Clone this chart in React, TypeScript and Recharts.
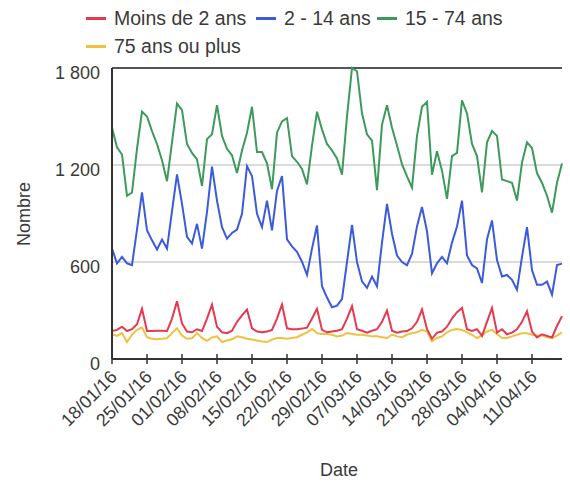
import { LineChart, Line, XAxis, YAxis, ReferenceLine, Label } from "recharts";

// one point per day, from 18/01/16 to 17/04/16
const START = Date.UTC(2016, 0, 18);
const pad = (n: number) => String(n).padStart(2, "0");
const dates = Array.from({ length: 91 }, (_, i) => {
  const d = new Date(START + i * 86400000);
  return `${pad(d.getUTCDate())}/${pad(d.getUTCMonth() + 1)}/${String(d.getUTCFullYear()).slice(2)}`;
});

const moins2 = [
  173, 180, 200, 173, 184, 215, 310, 173, 173, 175, 175, 173, 250, 357, 220, 170, 165, 184, 173, 250,
  337, 200, 165, 160, 175, 230, 270, 306, 190, 170, 165, 170, 180, 250, 337, 190, 184, 184, 188, 194,
  250, 310, 180, 165, 170, 175, 184, 250, 327, 184, 175, 163, 175, 184, 230, 300, 175, 163, 170, 173,
  190, 230, 306, 184, 125, 163, 170, 200, 250, 290, 316, 184, 173, 184, 143, 230, 316, 163, 184, 153,
  163, 184, 230, 296, 170, 133, 153, 143, 133, 204, 265,
];

const de2a14 = [
  683, 592, 632, 592, 581, 800, 1030, 796, 734, 677, 739, 683, 914, 1142, 960, 755, 714, 836, 683, 910,
  1190, 980, 816, 745, 780, 800, 898, 1193, 1132, 898, 816, 979, 796, 1040, 1132, 740, 697, 663, 602, 520,
  683, 826, 450, 380, 320, 330, 370, 600, 830, 600, 480, 440, 510, 450, 720, 959, 775, 640, 600, 580,
  650, 820, 940, 790, 530, 592, 632, 592, 720, 820, 980, 640, 581, 560, 470, 740, 857, 612, 510, 520,
  490, 428, 632, 816, 550, 459, 459, 479, 398, 581, 590,
];

const de15a74 = [
  1430, 1310, 1265, 1010, 1030, 1300, 1530, 1500, 1410, 1330, 1230, 1100, 1340, 1580, 1540, 1330, 1275, 1235, 1070, 1360,
  1390, 1570, 1380, 1300, 1260, 1150, 1290, 1400, 1560, 1280, 1280, 1210, 1050, 1400, 1470, 1490, 1255, 1220, 1175, 1080,
  1320, 1530, 1420, 1330, 1290, 1240, 1140, 1500, 1800, 1780, 1520, 1390, 1350, 1045, 1450, 1570, 1430, 1320, 1205, 1130,
  1060, 1380, 1560, 1590, 1140, 1285, 1165, 990, 1255, 1275, 1600, 1520, 1330, 1255, 1030, 1340, 1410, 1380, 1110, 1100,
  1090, 980, 1215, 1340, 1305, 1150, 1090, 1010, 905, 1090, 1210,
];

const plus75 = [
  153, 143, 160, 105, 150, 180, 195, 135, 125, 122, 125, 128, 160, 190, 145, 125, 128, 160, 130, 112,
  133, 140, 105, 115, 122, 140, 135, 125, 120, 115, 108, 105, 120, 130, 130, 125, 130, 135, 150, 165,
  185, 160, 155, 155, 150, 140, 145, 160, 155, 150, 150, 145, 140, 140, 135, 130, 150, 140, 135, 150,
  160, 165, 180, 170, 110, 130, 140, 165, 180, 185, 180, 165, 150, 130, 145, 170, 180, 155, 130, 130,
  140, 150, 160, 160, 150, 145, 145, 135, 130, 145, 165,
];

const yTicks = [0, 600, 1200, 1800];

const data = dates.map((date, i) => ({
  date,
  moins2: moins2[i],
  de2a14: de2a14[i],
  de15a74: de15a74[i],
  plus75: plus75[i],
}));

const FONT = "'Liberation Sans', Arial, sans-serif";
const TEXT = "#3a3a3a";

const legendItems = [
  { label: "Moins de 2 ans", color: "#e63950", x: 86, y: 18 },
  { label: "2 - 14 ans", color: "#3b5bdb", x: 256, y: 18 },
  { label: "15 - 74 ans", color: "#3d9a5b", x: 377, y: 18 },
  { label: "75 ans ou plus", color: "#f0c040", x: 86, y: 46 },
];

const fmt = (v: number) => (v >= 1000 ? `${Math.floor(v / 1000)} ${String(v % 1000).padStart(3, "0")}` : String(v));

const DateTick = ({ x, y, payload }: any) => (
  <g>
    <line x1={x} x2={x} y1={y - 5} y2={y + 5} stroke="#333" strokeWidth={1.5} />
    <text
      x={x + 6}
      y={y + 19}
      transform={`rotate(-45 ${x + 6} ${y + 19})`}
      textAnchor="end"
      fontSize={18}
      fontFamily={FONT}
      fill={TEXT}
    >
      {payload.value}
    </text>
  </g>
);

const NumTick = ({ x, y, payload }: any) => (
  <text x={x} y={y + 5} dy="0.35em" textAnchor="end" fontSize={18} fontFamily={FONT} fill={TEXT}>
    {fmt(payload.value)}
  </text>
);

export default function App() {
  return (
    <div style={{ position: "absolute", left: 0, top: 0, width: 570, height: 487, background: "#fff" }}>
      {legendItems.map((it) => (
        <div
          key={it.label}
          style={{
            position: "absolute",
            left: it.x,
            top: it.y - 12,
            height: 24,
            display: "flex",
            alignItems: "center",
            fontFamily: FONT,
            fontSize: 19.5,
            color: TEXT,
            whiteSpace: "nowrap",
          }}
        >
          <span style={{ display: "inline-block", width: 20, height: 3, background: it.color, marginRight: 8 }} />
          {it.label}
        </div>
      ))}
      <LineChart width={570} height={487} data={data} margin={{ top: 68, right: 8, left: 0, bottom: 0 }}>
        <XAxis
          dataKey="date"
          interval={6}
          height={128}
          tickSize={0}
          tickMargin={0}
          tickLine={false}
          tick={<DateTick />}
          axisLine={{ stroke: "#333", strokeWidth: 2 }}
        >
          <Label
            content={() => (
              <text x={339} y={476} textAnchor="middle" fontSize={18} fontFamily={FONT} fill={TEXT}>
                Date
              </text>
            )}
          />
        </XAxis>
        <YAxis
          width={112}
          domain={[0, 1800]}
          ticks={yTicks}
          tickSize={0}
          tickMargin={12}
          tickLine={false}
          tick={<NumTick />}
          axisLine={{ stroke: "#333", strokeWidth: 2 }}
        >
          <Label
            content={() => (
              <text
                x={30}
                y={214}
                transform="rotate(-90 30 214)"
                textAnchor="middle"
                fontSize={18}
                fontFamily={FONT}
                fill={TEXT}
              >
                Nombre
              </text>
            )}
          />
        </YAxis>
        <ReferenceLine y={600} stroke="#cfcfcf" strokeWidth={1.5} />
        <ReferenceLine y={1200} stroke="#cfcfcf" strokeWidth={1.5} />
        <ReferenceLine y={1800} stroke="#555" strokeWidth={2} />
        <Line dataKey="plus75" stroke="#f0c040" strokeWidth={2} dot={false} isAnimationActive={false} />
        <Line dataKey="moins2" stroke="#e63950" strokeWidth={2} dot={false} isAnimationActive={false} />
        <Line dataKey="de2a14" stroke="#3b5bdb" strokeWidth={2} dot={false} isAnimationActive={false} />
        <Line dataKey="de15a74" stroke="#3d9a5b" strokeWidth={2} dot={false} isAnimationActive={false} />
      </LineChart>
    </div>
  );
}
